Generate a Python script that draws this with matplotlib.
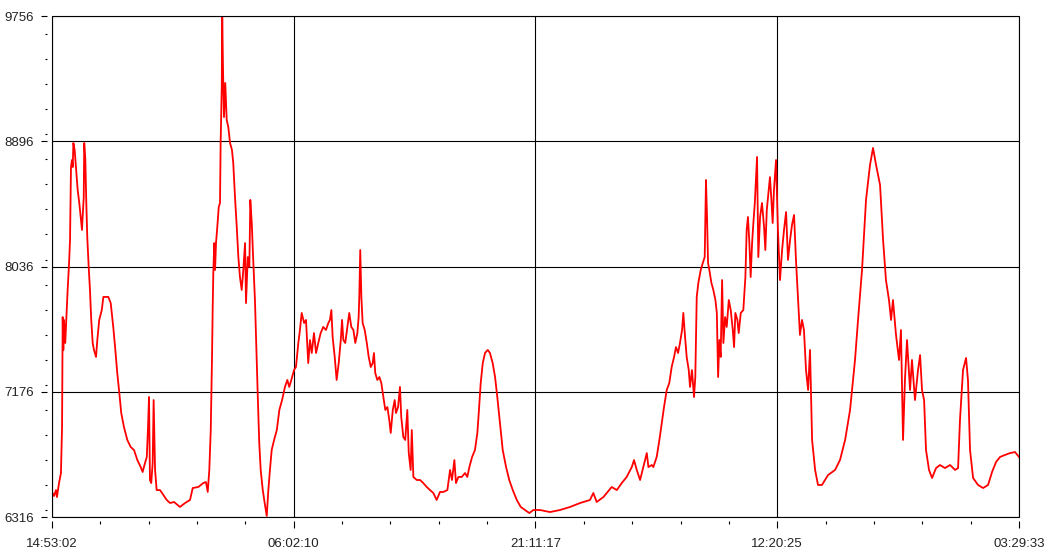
import matplotlib
matplotlib.use('Agg')
import matplotlib.pyplot as plt
from matplotlib.ticker import FixedLocator, MultipleLocator
from matplotlib.patches import Rectangle

# elapsed time (hours since 14:53:02) and reading
hours = [0.00, 0.13, 0.25, 0.31, 0.44, 0.56, 0.63, 0.67, 0.71, 0.75, 0.83, 0.92, 0.98, 1.07, 1.13,
         1.19, 1.25, 1.30, 1.34, 1.42, 1.50, 1.61, 1.71, 1.80, 1.88, 1.92, 1.99, 2.02, 2.09, 2.15,
         2.21, 2.30, 2.38, 2.46, 2.55, 2.63, 2.76, 2.84, 2.96, 3.12, 3.22, 3.38, 3.53, 3.68, 3.84,
         3.97, 4.09, 4.22, 4.34, 4.51, 4.72, 4.93, 5.14, 5.35, 5.56, 5.68, 5.83, 5.94, 6.02, 6.08,
         6.14, 6.22, 6.31, 6.37, 6.46, 6.56, 6.77, 6.98, 7.19, 7.40, 7.65, 8.02, 8.34, 8.65, 8.82,
         9.17, 9.48, 9.65, 9.76, 9.86, 9.95, 10.03, 10.07, 10.11, 10.17, 10.22, 10.28, 10.36, 10.45, 10.53,
         10.57, 10.64, 10.67, 10.72, 10.78, 10.86, 10.95, 11.05, 11.16, 11.28, 11.36, 11.47, 11.58, 11.68, 11.78,
         11.89, 11.99, 12.10, 12.16, 12.27, 12.37, 12.43, 12.52, 12.62, 12.72, 12.83, 12.91, 12.99, 13.08, 13.21,
         13.33, 13.46, 13.56, 13.66, 13.77, 13.92, 14.09, 14.25, 14.42, 14.60, 14.75, 14.87, 15.00, 15.17, 15.29,
         15.44, 15.54, 15.65, 15.80, 15.92, 16.06, 16.17, 16.28, 16.42, 16.55, 16.69, 16.84, 17.00, 17.17, 17.32,
         17.42, 17.51, 17.59, 17.72, 17.84, 17.97, 18.10, 18.18, 18.26, 18.38, 18.51, 18.63, 18.76, 18.89, 19.01,
         19.14, 19.22, 19.26, 19.32, 19.39, 19.47, 19.60, 19.73, 19.85, 19.98, 20.10, 20.18, 20.26, 20.39, 20.52,
         20.64, 20.77, 20.89, 21.02, 21.14, 21.23, 21.36, 21.48, 21.56, 21.69, 21.81, 21.89, 22.02, 22.14, 22.27,
         22.36, 22.48, 22.55, 22.65, 22.86, 23.07, 23.27, 23.49, 23.69, 23.90, 24.11, 24.32, 24.53, 24.78, 24.95,
         25.07, 25.22, 25.32, 25.47, 25.68, 25.89, 26.03, 26.16, 26.33, 26.51, 26.66, 26.76, 26.87, 27.00, 27.14,
         27.31, 27.45, 27.62, 27.77, 27.91, 28.08, 28.25, 28.46, 28.66, 28.88, 29.13, 29.38, 29.65, 29.92, 30.17,
         30.59, 31.21, 31.84, 32.47, 33.10, 33.72, 33.93, 34.14, 34.56, 35.08, 35.40, 35.71, 36.02, 36.34, 36.48,
         36.65, 36.86, 37.06, 37.28, 37.38, 37.59, 37.69, 37.90, 38.07, 38.22, 38.36, 38.53, 38.69, 38.84, 38.99,
         39.11, 39.24, 39.36, 39.49, 39.57, 39.66, 39.78, 39.91, 39.99, 40.11, 40.24, 40.32, 40.41, 40.51, 40.66,
         40.79, 40.91, 40.99, 41.06, 41.12, 41.20, 41.33, 41.45, 41.58, 41.67, 41.75, 41.83, 41.91, 42.00, 42.08,
         42.19, 42.29, 42.42, 42.54, 42.67, 42.75, 42.83, 42.96, 43.04, 43.17, 43.33, 43.46, 43.54, 43.62, 43.71,
         43.79, 43.88, 43.96, 44.05, 44.13, 44.19, 44.27, 44.38, 44.50, 44.63, 44.71, 44.80, 44.92, 45.00, 45.09,
         45.17, 45.25, 45.38, 45.50, 45.63, 45.76, 45.88, 46.01, 46.13, 46.26, 46.38, 46.51, 46.63, 46.76, 46.88,
         47.01, 47.13, 47.26, 47.39, 47.51, 47.64, 47.83, 48.01, 48.26, 48.64, 49.08, 49.39, 49.71, 50.02, 50.33,
         50.52, 50.77, 51.02, 51.27, 51.46, 51.65, 51.90, 52.09, 52.27, 52.46, 52.59, 52.71, 52.90, 53.09, 53.21,
         53.34, 53.46, 53.59, 53.78, 53.90, 54.09, 54.28, 54.41, 54.53, 54.66, 54.78, 54.97, 55.16, 55.41, 55.66,
         55.97, 56.29, 56.60, 56.79, 56.91, 57.10, 57.29, 57.41, 57.54, 57.73, 58.04, 58.36, 58.67, 58.92, 59.17,
         59.42, 59.73, 60.05, 60.36, 60.61]

values = [6488, 6460, 6501, 6453, 6549, 6618, 6934, 7689, 7463, 7669, 7511, 7737, 7875, 8060, 8218,
          8719, 8767, 8719, 8884, 8836, 8719, 8561, 8472, 8376, 8287, 8376, 8513, 8884, 8767, 8472,
          8238, 8033, 7875, 7669, 7511, 7463, 7415, 7531, 7669, 7737, 7827, 7827, 7827, 7785, 7621,
          7463, 7305, 7167, 7030, 6934, 6845, 6797, 6776, 6707, 6659, 6625, 6687, 6728, 6934, 7140,
          6570, 6549, 6687, 7119, 6639, 6501, 6501, 6467, 6433, 6412, 6419, 6385, 6412, 6433, 6515,
          6522, 6549, 6556, 6488, 6639, 6913, 7415, 7737, 7991, 8197, 8012, 8197, 8307, 8444, 8472,
          8884, 9268, 9750, 9385, 9062, 9296, 9042, 8994, 8884, 8836, 8747, 8513, 8307, 8101, 7964,
          7875, 8012, 8197, 7785, 8101, 8033, 8493, 8335, 8060, 7806, 7394, 7099, 6824, 6639, 6501,
          6412, 6323, 6501, 6639, 6776, 6845, 6913, 7051, 7119, 7209, 7257, 7209, 7257, 7325, 7346,
          7511, 7600, 7717, 7648, 7669, 7373, 7531, 7442, 7579, 7442, 7511, 7579, 7621, 7600, 7648,
          7669, 7737, 7552, 7415, 7257, 7373, 7531, 7669, 7531, 7511, 7621, 7717, 7621, 7600, 7511,
          7579, 7689, 7827, 8149, 7827, 7648, 7600, 7511, 7415, 7346, 7373, 7442, 7305, 7257, 7277,
          7236, 7140, 7051, 7071, 6982, 6893, 7051, 7119, 7030, 7071, 7209, 7003, 6865, 6845, 7051,
          6755, 6639, 6913, 6591, 6570, 6570, 6549, 6522, 6501, 6481, 6433, 6488, 6488, 6501, 6639,
          6570, 6707, 6549, 6591, 6591, 6618, 6591, 6659, 6728, 6776, 6893, 7051, 7236, 7373, 7442,
          7463, 7442, 7373, 7277, 7140, 6961, 6776, 6659, 6570, 6501, 6433, 6385, 6364, 6343, 6364,
          6364, 6350, 6364, 6385, 6412, 6433, 6481, 6419, 6453, 6522, 6501, 6549, 6591, 6659, 6707,
          6639, 6570, 6659, 6755, 6659, 6673, 6659, 6728, 6845, 6961, 7071, 7188, 7236, 7346, 7415,
          7483, 7442, 7511, 7600, 7717, 7579, 7415, 7325, 7209, 7325, 7140, 7277, 7827, 7923, 8012,
          8060, 8101, 8630, 8355, 8060, 8012, 7923, 7875, 7806, 7717, 7277, 7531, 7415, 7943, 7511,
          7689, 7621, 7806, 7737, 7600, 7483, 7717, 7669, 7579, 7717, 7737, 7964, 8287, 8376, 8197,
          7964, 8197, 8335, 8472, 8650, 8788, 8101, 8376, 8472, 8307, 8149, 8424, 8561, 8650, 8493,
          8335, 8561, 8767, 8287, 7943, 8149, 8287, 8410, 8081, 8218, 8321, 8390, 8081, 7806, 7566,
          7669, 7600, 7325, 7188, 7463, 6845, 6639, 6536, 6536, 6604, 6639, 6707, 6845, 7051, 7394,
          7669, 8012, 8493, 8733, 8850, 8733, 8596, 8218, 7943, 7806, 7669, 7806, 7566, 7394, 7600,
          6845, 7257, 7531, 7188, 7394, 7119, 7325, 7428, 7188, 7119, 6776, 6639, 6584, 6652, 6673,
          6652, 6673, 6639, 6652, 6982, 7325, 7408, 7257, 6776, 6584, 6536, 6515, 6536, 6625, 6694,
          6728, 6742, 6755, 6762, 6728]

tick_hours = [0.0, 15.1522, 30.3044, 45.4567, 60.6089]
tick_labels = ['14:53:02', '06:02:10', '21:11:17', '12:20:25', '03:29:33']
y_ticks = [6316, 7176, 8036, 8896, 9756]

fig = plt.figure(figsize=(10.52, 5.59), dpi=100)
ax = fig.add_axes([52 / 1052, 42 / 559, 967 / 1052, 501 / 559])

ax.plot(hours, values, color='#ff0000', lw=1.3)

ax.set_xlim(tick_hours[0], tick_hours[-1])
ax.set_ylim(y_ticks[0], y_ticks[-1])

ax.xaxis.set_major_locator(FixedLocator(tick_hours))
ax.set_xticklabels(tick_labels)
ax.xaxis.set_minor_locator(MultipleLocator(tick_hours[1] / 5))
ax.yaxis.set_major_locator(FixedLocator(y_ticks))
ax.yaxis.set_minor_locator(MultipleLocator(172))

ax.grid(True, which='major', color='black', lw=0.8)

# ticks sit a few pixels away from the frame
for s in ax.spines.values():
    s.set_color('none')
ax.spines['left'].set_position(('outward', 3.6))
ax.spines['bottom'].set_position(('outward', 3))
ax.add_patch(Rectangle((0, 0), 1, 1, transform=ax.transAxes, fill=False,
                       edgecolor='black', lw=0.8, clip_on=False, zorder=5))

ax.tick_params(axis='both', which='both', direction='out', color='black', width=0.8)
ax.tick_params(axis='y', which='major', length=4.3, pad=5, labelsize=9.5)
ax.tick_params(axis='y', which='minor', length=1.8)
ax.tick_params(axis='x', which='major', length=5, pad=7, labelsize=9.5)
ax.tick_params(axis='x', which='minor', length=2.2)
for lab in ax.get_xticklabels() + ax.get_yticklabels():
    lab.set_family(['Liberation Sans', 'DejaVu Sans'])
    lab.set_color('#222222')

fig.savefig('out.png', dpi=100)
